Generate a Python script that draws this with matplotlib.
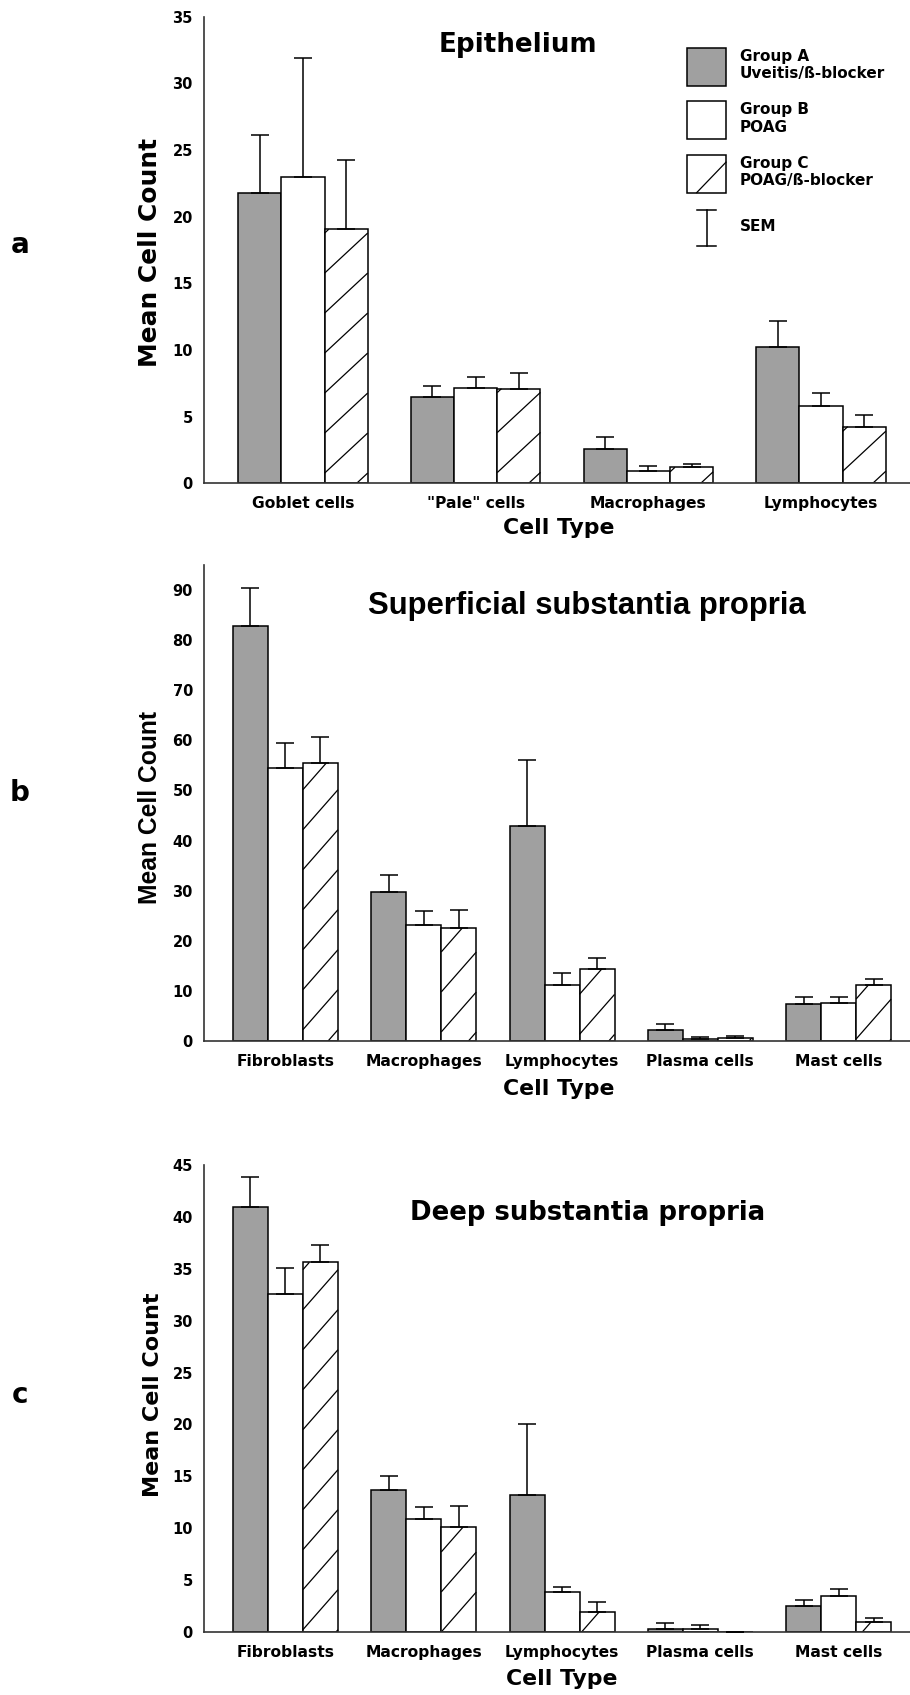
#!/usr/bin/env python3

import numpy as np
import matplotlib
import matplotlib.pyplot as plt
from matplotlib.patches import Rectangle
from matplotlib.lines import Line2D
from matplotlib.collections import LineCollection
from matplotlib.transforms import IdentityTransform
from matplotlib.legend_handler import HandlerBase

matplotlib.use('Agg')

W, H = 910, 1695

# a: Epithelium
epi_cells = ['Goblet cells', '"Pale" cells', 'Macrophages', 'Lymphocytes']
epi_a = [21.8, 6.5, 2.6, 10.25]
epi_a_sem = [4.3, 0.8, 0.85, 1.95]
epi_b = [23.0, 7.15, 0.95, 5.8]
epi_b_sem = [8.9, 0.8, 0.38, 0.95]
epi_c = [19.05, 7.1, 1.2, 4.25]
epi_c_sem = [5.2, 1.2, 0.25, 0.85]
epi_ticks = [0, 5, 10, 15, 20, 25, 30, 35]

# b: Superficial substantia propria
sub_cells = ['Fibroblasts', 'Macrophages', 'Lymphocytes', 'Plasma cells', 'Mast cells']
sup_a = [82.9, 29.7, 43.0, 2.15, 7.35]
sup_a_sem = [7.5, 3.4, 13.1, 1.2, 1.5]
sup_b = [54.5, 23.2, 11.1, 0.3, 7.5]
sup_b_sem = [4.9, 2.7, 2.4, 0.45, 1.35]
sup_c = [55.5, 22.5, 14.4, 0.55, 11.1]
sup_c_sem = [5.2, 3.6, 2.1, 0.4, 1.3]
sup_ticks = [0, 10, 20, 30, 40, 50, 60, 70, 80, 90]

# c: Deep substantia propria
deep_a = [40.9, 13.7, 13.2, 0.3, 2.55]
deep_a_sem = [2.9, 1.3, 6.8, 0.6, 0.55]
deep_b = [32.6, 10.9, 3.9, 0.3, 3.45]
deep_b_sem = [2.5, 1.2, 0.5, 0.4, 0.75]
deep_c = [35.6, 10.1, 2.0, 0.0, 0.95]
deep_c_sem = [1.7, 2.1, 0.9, 0.0, 0.4]
deep_ticks = [0, 5, 10, 15, 20, 25, 30, 35, 40, 45]

group_labels = ['Group A\nUveitis/ß-blocker', 'Group B\nPOAG', 'Group C\nPOAG/ß-blocker', 'SEM']

GRAY = '#a0a0a0'


def px_axes(fig, left, top, right, bottom):
    return fig.add_axes([left / W, 1 - bottom / H, (right - left) / W, (bottom - top) / H])


def hatch_bars(ax, bars, slope, spacing=40):
    # sparse single-diagonal hatch, cut to each bar's outline
    for rect in bars:
        if rect.get_height() <= 0:
            continue
        (x0, y0), (x1, y1) = ax.transData.transform(
            [(rect.get_x(), 0), (rect.get_x() + rect.get_width(), rect.get_height())])
        k0 = np.ceil((y0 - slope * x1) / spacing)
        k1 = np.floor((y1 - slope * x0) / spacing)
        segs = []
        for k in np.arange(k0, k1 + 1):
            c = k * spacing
            xa = max(x0, (y0 - c) / slope)
            xb = min(x1, (y1 - c) / slope)
            if xb > xa:
                segs.append([(xa, slope * xa + c), (xb, slope * xb + c)])
        lc = LineCollection(segs, colors='black', linewidths=0.9, transform=IdentityTransform(),
                            zorder=2.5)
        ax.add_artist(lc)


def draw_panel(ax, cats, groups, sems, ticks, ymax, bw, xlim, slope):
    x = np.arange(len(cats))
    fills = [GRAY, 'white', 'white']
    containers = []
    for j in range(3):
        pos = x + (j - 1) * bw
        vals = np.array(groups[j])
        bars = ax.bar(pos, vals, bw, color=fills[j], edgecolor='black', linewidth=1.1, zorder=2)
        ax.errorbar(pos, vals, yerr=[np.zeros(len(vals)), sems[j]], fmt='none', ecolor='black',
                    elinewidth=1.1, capsize=6.5, capthick=1.1, zorder=3)
        containers.append(bars)
    ax.set_xlim(*xlim)
    ax.set_ylim(0, ymax)
    ax.set_yticks(ticks)
    ax.set_xticks(x)
    ax.set_xticklabels(cats)
    for s in ['top', 'right']:
        ax.spines[s].set_visible(False)
    for s in ['left', 'bottom']:
        ax.spines[s].set_color('#333333')
        ax.spines[s].set_linewidth(1.2)
    ax.tick_params(axis='y', length=0, pad=8, labelsize=10.5)
    ax.tick_params(axis='x', length=0, pad=9.5, labelsize=11.2)
    for lab in ax.get_xticklabels() + ax.get_yticklabels():
        lab.set_fontweight('bold')
    ax.set_facecolor('none')
    hatch_bars(ax, containers[2], slope)


class DiagHandler(HandlerBase):
    def create_artists(self, legend, orig_handle, xdescent, ydescent, width, height, fontsize, trans):
        x0, y0 = -xdescent, -ydescent
        box = Rectangle((x0, y0), width, height, facecolor='white', edgecolor='black',
                        linewidth=1.1, transform=trans)
        diag = Line2D([x0 + 0.25 * width, x0 + width], [y0, y0 + 0.8 * height],
                      color='black', linewidth=0.9, transform=trans)
        return [box, diag]


class SemHandler(HandlerBase):
    def create_artists(self, legend, orig_handle, xdescent, ydescent, width, height, fontsize, trans):
        cx = -xdescent + width / 2
        y0, y1 = -ydescent, -ydescent + 0.95 * height
        half = 0.245 * width
        kw = dict(color='black', linewidth=1.1, transform=trans)
        return [Line2D([cx, cx], [y0, y1], **kw),
                Line2D([cx - half, cx + half], [y0, y0], **kw),
                Line2D([cx - half, cx + half], [y1, y1], **kw)]


fig = plt.figure(figsize=(W / 100, H / 100), dpi=100)
fig.patch.set_facecolor('white')

ax_a = px_axes(fig, 204, 16.7, 910, 483.3)
ax_b = px_axes(fig, 204, 565, 910, 1041)
ax_c = px_axes(fig, 204, 1164.7, 910, 1632.3)

draw_panel(ax_a, epi_cells, [epi_a, epi_b, epi_c], [epi_a_sem, epi_b_sem, epi_c_sem],
           epi_ticks, 35, 0.25, (-0.573, 3.515), 0.93)
draw_panel(ax_b, sub_cells, [sup_a, sup_b, sup_c], [sup_a_sem, sup_b_sem, sup_c_sem],
           sup_ticks, 95, 0.253, (-0.589, 4.516), 1.14)
draw_panel(ax_c, sub_cells, [deep_a, deep_b, deep_c], [deep_a_sem, deep_b_sem, deep_c_sem],
           deep_ticks, 45, 0.253, (-0.589, 4.516), 1.14)

# titles
fig.text(518 / W, 1 - 52 / H, 'Epithelium', ha='center', va='baseline',
         fontsize=18.8, fontweight='bold')
fig.text(587 / W, 1 - 614 / H, 'Superficial substantia propria', ha='center', va='baseline',
         fontsize=22.3, fontweight='bold', family='Liberation Sans')
fig.text(588 / W, 1 - 1220 / H, 'Deep substantia propria', ha='center', va='baseline',
         fontsize=18.7, fontweight='bold')

# y labels
fig.text(150 / W, 1 - 252 / H, 'Mean Cell Count', rotation=90, ha='center', va='center',
         fontsize=17.9, fontweight='bold')
fig.text(150 / W, 1 - 807 / H, 'Mean Cell Count', rotation=90, ha='center', va='center',
         fontsize=17.7, fontweight='bold', family='Liberation Sans')
fig.text(153 / W, 1 - 1395 / H, 'Mean Cell Count', rotation=90, ha='center', va='center',
         fontsize=16, fontweight='bold')

# x labels
for cx, base in [(559, 534), (559, 1095), (562, 1685)]:
    fig.text(cx / W, 1 - base / H, 'Cell Type', ha='center', va='baseline',
             fontsize=15.8, fontweight='bold')

# panel letters
for letter, cy in [('a', 245), ('b', 793), ('c', 1395)]:
    fig.text(20 / W, 1 - cy / H, letter, ha='center', va='center', fontsize=20, fontweight='bold')

# legend
h_a = Rectangle((0, 0), 1, 1, facecolor=GRAY, edgecolor='black', linewidth=1.1)
h_b = Rectangle((0, 0), 1, 1, facecolor='white', edgecolor='black', linewidth=1.1)
h_c = Rectangle((0, 0), 1, 1, facecolor='white', edgecolor='black')
h_sem = Line2D([], [], color='black')
fs_px = 11 * 100 / 72
fig.legend([h_a, h_b, h_c, h_sem], group_labels, loc='upper left',
           bbox_to_anchor=(687 / W, 1 - 48 / H), bbox_transform=fig.transFigure,
           frameon=False, borderpad=0, borderaxespad=0,
           handlelength=39 / fs_px, handleheight=3.45, handletextpad=0.9,
           labelspacing=1.0, prop=dict(weight='bold', size=11),
           handler_map={h_c: DiagHandler(), h_sem: SemHandler()})

fig.savefig('out.png', dpi=100, facecolor='white')
